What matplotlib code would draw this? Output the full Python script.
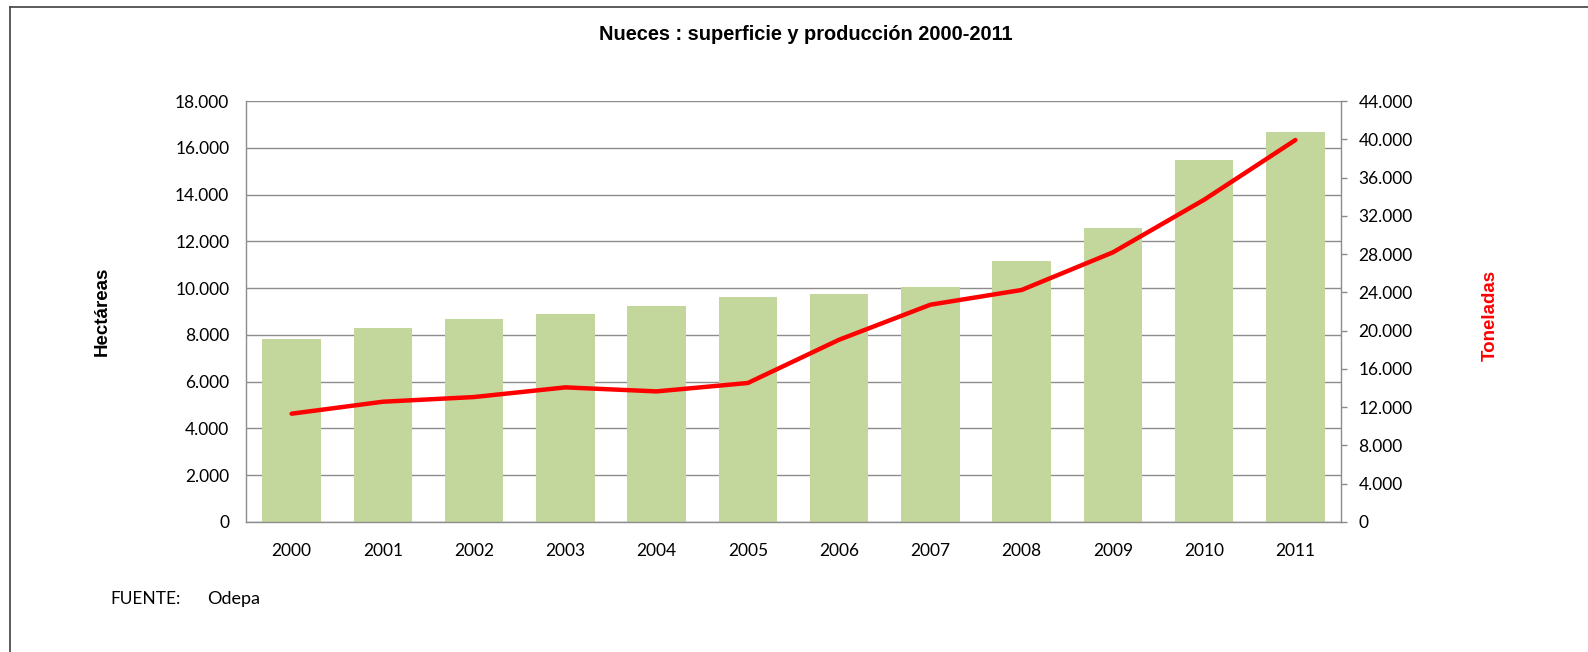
import matplotlib.pyplot as plt
from matplotlib.lines import Line2D
from matplotlib.ticker import FixedLocator, FuncFormatter

years = ["2000", "2001", "2002", "2003", "2004", "2005",
         "2006", "2007", "2008", "2009", "2010", "2011"]
hectareas = [7820, 8300, 8660, 8900, 9230, 9620, 9750, 10060, 11160, 12580, 15480, 16690]
toneladas = [11320, 12570, 13060, 14070, 13650, 14530, 19050, 22710, 24250, 28180, 33680, 39920]

left_ticks = list(range(0, 18001, 2000))
right_ticks = list(range(0, 44001, 4000))

bar_color = "#C3D69B"
line_color = "#FF0000"
grid_color = "#8C8C8C"
tick_font = "Lato"
bold_font = "Liberation Sans"


def miles(v, pos=None):
    return f"{v:,.0f}".replace(",", ".")


fig = plt.figure(figsize=(15.88, 6.52), dpi=100)
ax = fig.add_axes([246 / 1588, 1 - 522 / 652, 1095 / 1588, 421 / 652])
ax2 = ax.twinx()

x = range(len(years))
ax.bar(x, hectareas, width=0.64, color=bar_color, zorder=2)
ax2.plot(x, toneladas, color=line_color, lw=3.2, solid_capstyle="round", zorder=3)

ax.set_xlim(-0.5, len(years) - 0.5)
ax.set_ylim(0, 18000)
ax2.set_ylim(0, 44000)

ax.yaxis.set_major_locator(FixedLocator(left_ticks))
ax.yaxis.set_major_formatter(FuncFormatter(miles))
ax2.yaxis.set_major_locator(FixedLocator(right_ticks))
ax2.yaxis.set_major_formatter(FuncFormatter(miles))

ax.set_axisbelow(True)
ax.yaxis.grid(True, color=grid_color, lw=1.0)
ax.set_xticks(list(x))
ax.set_xticklabels(years)

for a in (ax, ax2):
    for s in a.spines.values():
        s.set_visible(False)
ax.spines["left"].set_visible(True)
ax.spines["bottom"].set_visible(True)
ax2.spines["right"].set_visible(True)
for s in (ax.spines["left"], ax.spines["bottom"], ax2.spines["right"]):
    s.set_color(grid_color)
    s.set_linewidth(1.0)

ax.tick_params(axis="y", length=0, pad=12, labelsize=12.5, labelcolor="#000000")
ax.tick_params(axis="x", length=0, pad=15, labelsize=12.5, labelcolor="#000000")
ax2.tick_params(axis="y", length=4.5, width=1.0, color=grid_color, pad=8,
                labelsize=12.5, labelcolor="#000000")
for lab in ax.get_xticklabels() + ax.get_yticklabels() + ax2.get_yticklabels():
    lab.set_fontfamily(tick_font)

fig.text(806 / 1588, 1 - 35 / 652, "Nueces : superficie y producción 2000-2011",
         ha="center", va="center", fontsize=14.4, fontweight="bold", family=bold_font)
fig.text(102 / 1588, 1 - 311 / 652, "Hectáreas", rotation=90, ha="center", va="center",
         fontsize=13.5, fontweight="bold", family=bold_font)
fig.text(1490 / 1588, 1 - 315 / 652, "Toneladas", rotation=90, ha="center", va="center",
         fontsize=13.5, fontweight="bold", family=bold_font, color=line_color)

fig.text(110 / 1588, 1 - 599 / 652, "FUENTE:", ha="left", va="center",
         fontsize=12.5, family=tick_font)
fig.text(207 / 1588, 1 - 599 / 652, "Odepa", ha="left", va="center",
         fontsize=13, family=tick_font)

# marco exterior (solo arriba e izquierda)
fig.add_artist(Line2D([10 / 1588, 10 / 1588], [0, 1 - 7 / 652], transform=fig.transFigure,
                      color="#404040", lw=1.2))
fig.add_artist(Line2D([10 / 1588, 1], [1 - 7 / 652, 1 - 7 / 652], transform=fig.transFigure,
                      color="#404040", lw=1.2))

fig.savefig("out.png", dpi=100)
